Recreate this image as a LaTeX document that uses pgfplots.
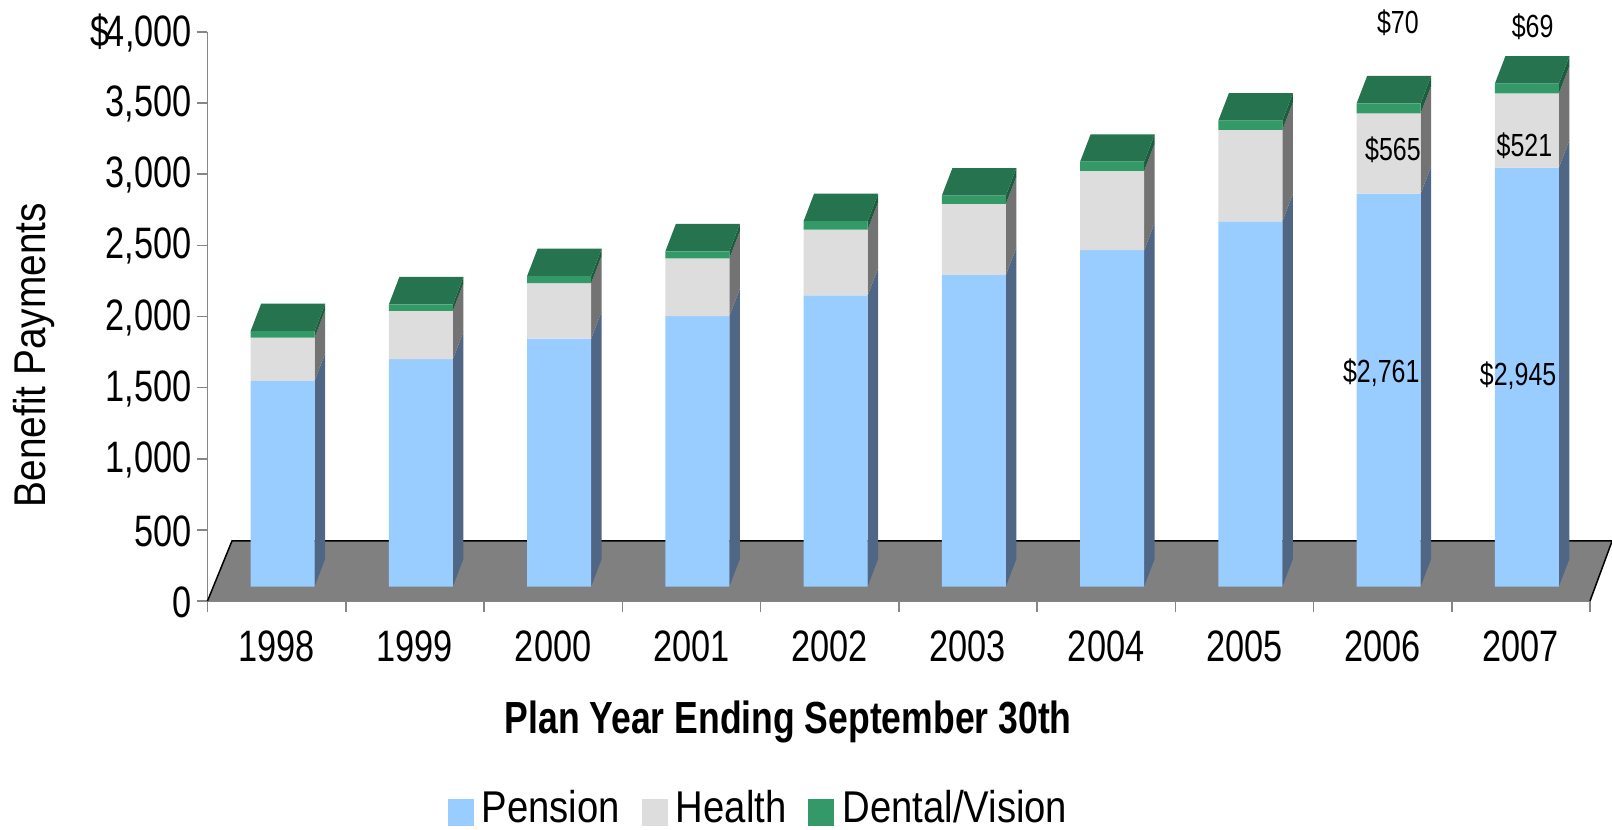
\documentclass[border=0pt]{standalone}
\usepackage{pgfplots}
\usepackage{pgfplotstable}
\usepackage{fontspec}
\pgfplotsset{compat=1.18}
\setmainfont[FakeStretch=0.78]{Liberation Sans}
\newfontfamily\lblfont[FakeStretch=0.872]{Liberation Sans}
\newfontfamily\legfont[FakeStretch=0.86]{Liberation Sans}
\newfontfamily\xlblfont[FakeStretch=0.79]{Liberation Sans}
\definecolor{penf}{HTML}{99CCFF}
\definecolor{pens}{HTML}{4F6785}
\definecolor{heaf}{HTML}{DDDDDD}
\definecolor{heas}{HTML}{737373}
\definecolor{denf}{HTML}{339966}
\definecolor{dens}{HTML}{1D5C3D}
\definecolor{dent}{HTML}{267350}
\definecolor{axg}{HTML}{868686}
\definecolor{floorg}{HTML}{808080}
\pgfplotstableread{
x   year pension health dental
0.5 1998 1446 304 45
1.5 1999 1598 340 45
2.5 2000 1742 390 50
3.5 2001 1901 405 50
4.5 2002 2046 463 60
5.5 2003 2191 499 58
6.5 2004 2364 557 65
7.5 2005 2567 643 65
8.5 2006 2761 565 70
9.5 2007 2945 521 69
}\datatable
\begin{document}
\begin{tikzpicture}[x=1pt,y=1pt]
\useasboundingbox (0,0) rectangle (1612,830);
\begin{axis}[
  at={(207.5pt,229pt)},anchor=south west,
  scale only axis,width=1382.5pt,height=569pt,
  ybar stacked,reverse stacked plots=false,bar width=64pt,bar shift=6pt,
  xmin=0,xmax=10,ymin=0,ymax=4000,clip=false,
  axis lines*=left,axis line style={draw=axg,line width=1.5pt,-},
  tick style={draw=axg,line width=1.5pt},tick align=outside,major tick length=10.5pt,
  xtick={0,...,10},xticklabels={1998,1999,2000,2001,2002,2003,2004,2005,2006,2007},
  x tick label as interval=true,
  ytick={0,500,...,4000},
  yticklabels={0,500,{1,000},{1,500},{2,000},{2,500},{3,000},{3,500},{\makebox[0pt][r]{\$\kern-4pt}4,000}},
  tick label style={font=\fontsize{44}{46}\selectfont},
  yticklabel style={inner sep=0pt,xshift=-5pt,yshift=-1pt},
  xticklabel style={inner sep=0pt,yshift=-19pt},
  every axis y label/.style={at={(axis description cs:-0.1255,0.432)},rotate=90,anchor=center,font=\lblfont\fontsize{44.5}{46}\selectfont},
  every axis x label/.style={at={(axis description cs:0.42,-0.212)},anchor=center,font=\xlblfont\bfseries\fontsize{45}{47}\selectfont},
  ylabel={Benefit Payments},
  xlabel={Plan Year Ending September 30th},
  legend style={at={(axis description cs:0.3985,-0.3625)},anchor=center,draw=none,fill=none,
    legend columns=-1,font=\legfont\fontsize{44.5}{46}\selectfont,
    /tikz/every even column/.style={column sep=20pt},inner sep=0pt},
  legend image code/.code={\fill[#1] (0pt,-33pt) rectangle (26pt,-6pt);\path (32pt,0pt);},
]
% floor
\addplot[forget plot,sharp plot,stack plots=false,draw=none,fill=floorg] coordinates {(0,0) (0.177,422) (10.16,422) (10,0)} -- cycle;
\addplot[forget plot,sharp plot,stack plots=false,black,line width=1.5pt,no marks] coordinates {(0,0) (0.177,422) (10.16,422) (10,0)};
% slanted faces
\pgfplotsforeachungrouped \i in {0,...,9}{%
  \pgfplotstablegetelem{\i}{x}\of\datatable\let\xc\pgfplotsretval
  \pgfplotstablegetelem{\i}{pension}\of\datatable\let\vp\pgfplotsretval
  \pgfplotstablegetelem{\i}{health}\of\datatable\let\vh\pgfplotsretval
  \pgfplotstablegetelem{\i}{dental}\of\datatable\let\vd\pgfplotsretval
  \pgfmathsetmacro\xl{\xc+0.0434-0.2315}
  \pgfmathsetmacro\xr{\xc+0.0434+0.2315}
  \pgfmathsetmacro\xR{\xr+0.076}
  \pgfmathsetmacro\xL{\xl+0.076}
  \pgfmathsetmacro\ya{102}
  \pgfmathsetmacro\yb{\ya+\vp}
  \pgfmathsetmacro\yc{\yb+\vh}
  \pgfmathsetmacro\yd{\yc+\vd}
  \pgfmathsetmacro\yA{\ya+193}
  \pgfmathsetmacro\yB{\yb+193}
  \pgfmathsetmacro\yC{\yc+193}
  \pgfmathsetmacro\yD{\yd+193}
  \addplot[forget plot,sharp plot,stack plots=false,draw=none,fill=pens] coordinates {(\xr,\ya) (\xR,\yA) (\xR,\yB) (\xr,\yb)} -- cycle;
  \addplot[forget plot,sharp plot,stack plots=false,draw=none,fill=heas] coordinates {(\xr,\yb) (\xR,\yB) (\xR,\yC) (\xr,\yc)} -- cycle;
  \addplot[forget plot,sharp plot,stack plots=false,draw=none,fill=dens] coordinates {(\xr,\yc) (\xR,\yC) (\xR,\yD) (\xr,\yd)} -- cycle;
  \addplot[forget plot,sharp plot,stack plots=false,draw=none,fill=dent] coordinates {(\xl,\yd) (\xr,\yd) (\xR,\yD) (\xL,\yD)} -- cycle;
}
% front faces
\addplot[fill=penf,draw=none,yshift=14.5pt] table[x=x,y=pension]{\datatable};
\addplot[fill=heaf,draw=none,yshift=14.5pt] table[x=x,y=health]{\datatable};
\addplot[fill=denf,draw=none,yshift=14.5pt] table[x=x,y=dental]{\datatable};
\legend{Pension,Health,Dental/Vision}
% value labels
\tikzset{vl/.style={font=\fontsize{32}{34}\selectfont,inner sep=0pt,anchor=center}}
\node[vl] at (axis cs:8.49,1603) {\$2,761};
\node[vl] at (axis cs:9.48,1587) {\$2,945};
\node[vl] at (axis cs:8.575,3170) {\$565};
\node[vl] at (axis cs:9.526,3199) {\$521};
\node[vl] at (axis cs:8.61,4066) {\$70};
\node[vl] at (axis cs:9.585,4037) {\$69};
\end{axis}
\end{tikzpicture}
\end{document}
